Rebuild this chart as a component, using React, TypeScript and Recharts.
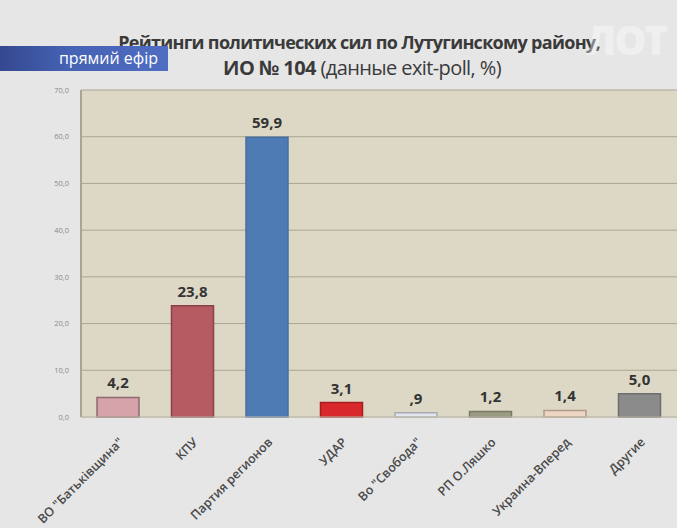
import React from 'react';
import { BarChart, Bar, XAxis, YAxis, CartesianGrid, Cell, LabelList } from 'recharts';

const categories = ['ВО "Батьківщина"', 'КПУ', 'Партия регионов', 'УДАР', 'Во "Свобода"', 'РП О.Ляшко', 'Украина-Вперед', 'Другие'];
const values = [4.2, 23.8, 59.9, 3.1, 0.9, 1.2, 1.4, 5.0];
const yTicks = [0, 10, 20, 30, 40, 50, 60, 70];
const fills = ['#d6a3ab', '#b65b62', '#4f7bb5', '#d8282c', '#e2e6ee', '#9b9a82', '#eed6c4', '#8b8b8b'];
const strokes = ['#8e6a70', '#8a4248', '#46709f', '#a81c1c', '#a9aab0', '#7a7a64', '#b09a88', '#6e6e6e'];

const data = categories.map((name, i) => ({ name, value: values[i] }));

const fmtTick = (v: number) => v.toFixed(1).replace('.', ',');
const fmtLabel = (v: number) => {
  const s = v.toFixed(1).replace('.', ',');
  return s.startsWith('0,') ? s.slice(1) : s;
};

const XTick = (props: any) => {
  const { x, y, payload } = props;
  return (
    <g transform={`translate(${x + 6},${y + 18})`}>
      <text transform="rotate(-45)" textAnchor="end" fontSize={12.5} fontFamily="'Open Sans', sans-serif" fontWeight={600} fill="#4a4a4a">
        {payload.value}
      </text>
    </g>
  );
};

export default function App() {
  return (
    <div style={{ position: 'absolute', left: 0, top: 0, width: 677, height: 528, background: '#e6e6e6', overflow: 'hidden', fontFamily: "'Open Sans', sans-serif" }}>
      <BarChart width={677} height={528} data={data} margin={{ top: 90, right: 0, bottom: 11, left: 41 }} barSize={42}>
        <CartesianGrid vertical={false} stroke="#aba693" fill="#ddd8c6" />
        <XAxis dataKey="name" interval={0} height={100} tick={<XTick />} tickLine={false} axisLine={{ stroke: '#c8c4b4' }} />
        <YAxis domain={[0, 70]} ticks={yTicks} width={40} tickFormatter={fmtTick} tick={{ fontSize: 7.5, fill: '#8a8a8a', fontFamily: "'Open Sans', sans-serif" }} tickLine={false} axisLine={{ stroke: '#a8a597', strokeWidth: 2 }} tickMargin={6} />
        <Bar dataKey="value" isAnimationActive={false} strokeWidth={1.5}>
          {data.map((_, i) => (
            <Cell key={i} fill={fills[i]} stroke={strokes[i]} />
          ))}
          <LabelList dataKey="value" position="top" offset={9} formatter={fmtLabel as any} style={{ fontSize: 15, fontWeight: 700, fill: '#333', fontFamily: "'Open Sans', sans-serif" }} />
        </Bar>
      </BarChart>
      <div style={{ position: 'absolute', left: 0, top: 30, width: 718, textAlign: 'center', fontSize: 18, fontWeight: 700, color: '#3a3a3a', letterSpacing: -0.7, whiteSpace: 'nowrap' }}>
        Рейтинги политических сил по Лутугинскому району,
      </div>
      <div style={{ position: 'absolute', left: 0, top: 54, width: 724, textAlign: 'center', fontSize: 20, color: '#3a3a3a', letterSpacing: -0.6, whiteSpace: 'nowrap' }}>
        <span style={{ fontWeight: 700 }}>ИО № 104</span> (данные exit-poll, %)
      </div>
      <div style={{ position: 'absolute', left: 0, top: 46, width: 168, height: 25, background: 'linear-gradient(90deg, #34488f 0%, #4562b3 40%, #4f6dc2 100%)', color: '#fff', fontSize: 16, lineHeight: '25px', textAlign: 'right', paddingRight: 10, boxSizing: 'border-box' }}>
        прямий ефір
      </div>
      <div style={{ position: 'absolute', left: 586, top: 12, fontSize: 40, fontWeight: 800, color: 'rgba(255,255,255,0.4)', letterSpacing: -2 }}>
        ЛОТ
      </div>
    </div>
  );
}
